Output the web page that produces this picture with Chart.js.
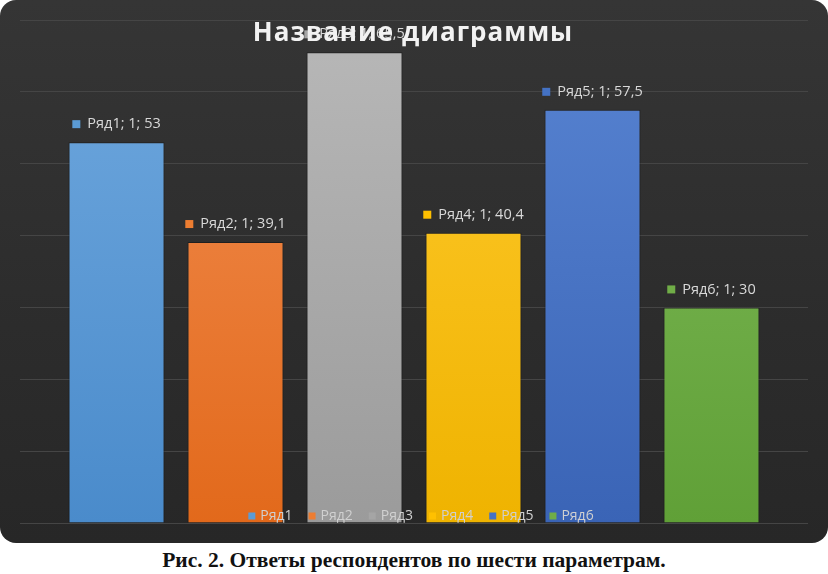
<!DOCTYPE html>
<html>
<head>
<meta charset="utf-8">
<script src="https://cdn.jsdelivr.net/npm/chart.js@4.4.1/dist/chart.umd.min.js"></script>
<style>
    html, body { margin: 0; padding: 0; background: #ffffff; }
    #wrap {
        width: 828px;
        height: 543px;
        border-radius: 16px;
        background: linear-gradient(180deg, #353535 0%, #2c2c2c 60%, #272727 100%);
        overflow: hidden;
    }
    #caption {
        width: 828px;
        text-align: center;
        font-family: 'Liberation Serif', 'Times New Roman', serif;
        font-weight: bold;
        font-size: 21.5px;
        color: #111;
        margin-top: 5px;
    }
</style>
</head>
<body>
<div id="wrap"><canvas id="myChartAnswers" width="828" height="543"></canvas></div>
<div id="caption">Рис. 2. Ответы респондентов по шести параметрам.</div>
<script>
const categories = ['1'];
const seriesNames = ['Ряд1', 'Ряд2', 'Ряд3', 'Ряд4', 'Ряд5', 'Ряд6'];
const seriesValues = [53, 39.1, 65.5, 40.4, 57.5, 30];
const yMin = 0;
const yMax = 70;
const yStep = 10;
const chartTitle = 'Название диаграммы';

// office-like colours, top / bottom of the gradient
const colorsTop = ['#6fa8de', '#f28e52', '#b8b8b8', '#ffca2e', '#5884d2', '#80bb5a'];
const colorsBottom = ['#4a8bcb', '#e2691b', '#9b9b9b', '#efb300', '#3a64b6', '#60a037'];
const colorsMarker = ['#5b9bd5', '#ed7d31', '#a5a5a5', '#ffc000', '#4472c4', '#70ad47'];

function barGradient(i) {
    return (ctx) => {
        const area = ctx.chart.chartArea;
        if (!area) return colorsMarker[i];
        const g = ctx.chart.ctx.createLinearGradient(0, area.top, 0, area.bottom);
        g.addColorStop(0, colorsTop[i]);
        g.addColorStop(1, colorsBottom[i]);
        return g;
    };
}

const fmt = (v) => String(v).replace('.', ',');

// labels "■ Ряд1; 1; 53" above every bar
const barLabels = {
    id: 'barLabels',
    afterDatasetsDraw(chart) {
        const ctx = chart.ctx;
        ctx.save();
        ctx.font = '14.5px "Open Sans", sans-serif';
        ctx.textBaseline = 'middle';
        chart.data.datasets.forEach((ds, i) => {
            const bar = chart.getDatasetMeta(i).data[0];
            const text = ds.label + '; ' + categories[0] + '; ' + fmt(ds.data[0]);
            const tw = ctx.measureText(text).width;
            const total = 8 + 7 + tw;
            const x0 = bar.x - total / 2;
            const y = bar.y - 18;
            ctx.fillStyle = colorsMarker[i];
            ctx.fillRect(x0, y - 4, 8, 8);
            ctx.fillStyle = '#d9d9d9';
            ctx.fillText(text, x0 + 15, y);
        });
        ctx.restore();
    }
};

// legend drawn inside the plot, over the bars
const innerLegend = {
    id: 'innerLegend',
    afterDraw(chart) {
        const ctx = chart.ctx;
        ctx.save();
        ctx.font = '14px "Open Sans", sans-serif';
        ctx.textBaseline = 'middle';
        const gap = 16;
        const widths = chart.data.datasets.map(ds => 7 + 5 + ctx.measureText(ds.label).width);
        const total = widths.reduce((a, b) => a + b, 0) + gap * (widths.length - 1);
        let x = 421 - total / 2;
        const y = 516;
        chart.data.datasets.forEach((ds, i) => {
            ctx.fillStyle = colorsMarker[i];
            ctx.fillRect(x, y - 3.5, 7, 7);
            ctx.fillStyle = '#d0d0d0';
            ctx.fillText(ds.label, x + 12, y);
            x += widths[i] + gap;
        });
        // title on top of everything
        ctx.font = 'bold 26px "Open Sans", sans-serif';
        ctx.textAlign = 'center';
        if ('letterSpacing' in ctx) ctx.letterSpacing = '1px';
        ctx.fillStyle = '#f2f2f2';
        ctx.fillText(chartTitle, 413, 34);
        ctx.restore();
    }
};

const myChartAnswers = new Chart(
    document.getElementById('myChartAnswers'),
    {
        type: 'bar',
        data: {
            labels: categories,
            datasets: seriesNames.map((name, i) => ({
                label: name,
                data: [seriesValues[i]],
                backgroundColor: barGradient(i),
                borderColor: 'rgba(20,20,20,0.55)',
                borderWidth: 1,
                categoryPercentage: 0.906,
                barPercentage: 0.807,
            }))
        },
        options: {
            responsive: false,
            animation: false,
            layout: {
                padding: { top: 20, bottom: 20, left: 20, right: 20 }
            },
            plugins: {
                legend: { display: false },
                title: { display: false },
                tooltip: { enabled: false }
            },
            scales: {
                x: {
                    display: false
                },
                y: {
                    min: yMin,
                    max: yMax,
                    ticks: { display: false, stepSize: yStep },
                    border: { display: false },
                    grid: { color: '#454545', lineWidth: 1, drawTicks: false },
                    afterFit: (scale) => { scale.width = 0; }
                }
            }
        },
        plugins: [barLabels, innerLegend]
    }
);
</script>
</body>
</html>
